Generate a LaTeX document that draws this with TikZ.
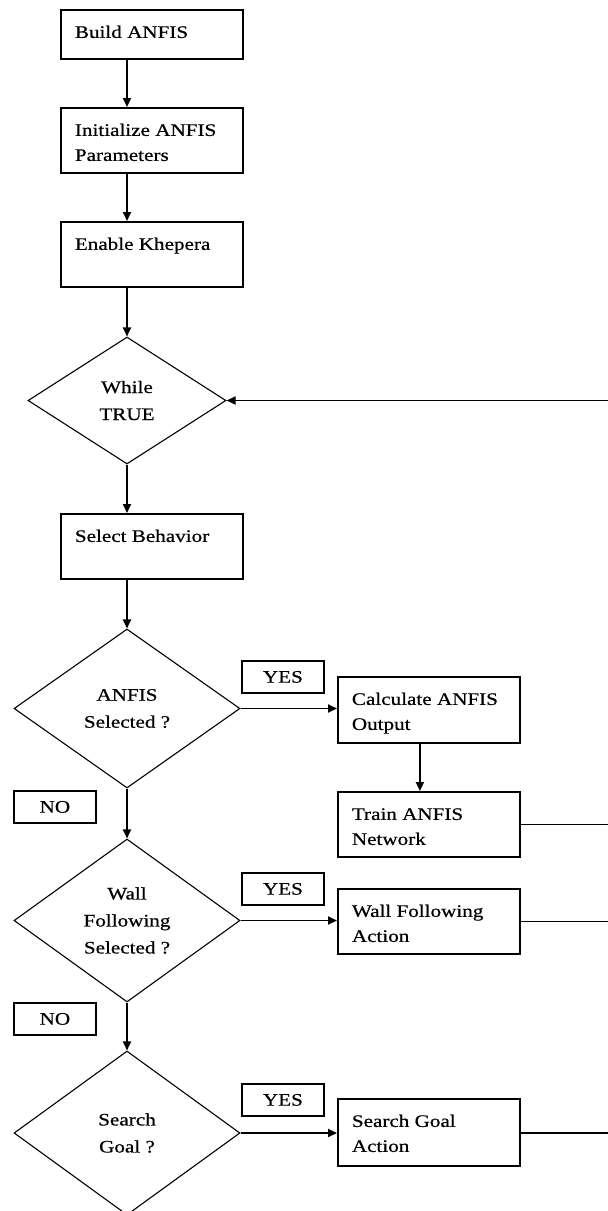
\documentclass[tikz,border=0pt]{standalone}
\usepackage{fontspec}
\setmainfont{Liberation Serif}[FakeStretch=1.2,FakeBold=0.6]
\usetikzlibrary{shapes.geometric,arrows.meta}

% text size used throughout the chart
\newcommand{\chartfont}{\fontsize{17.6pt}{25pt}\selectfont}
% top-left aligned text inside a process box of given height
\newcommand{\boxtxt}[2]{\parbox[c][#1pt][t]{182pt}{\chartfont\raggedright\leftskip=14pt\rule{0pt}{28pt}#2}}

\begin{document}
\begin{tikzpicture}[x=1pt,y=-1pt,
  stepbox/.style={draw,line width=1.8pt,inner sep=0pt,anchor=north west},
  decision/.style={diamond,draw,line width=1.1pt,inner sep=0pt,align=center,
                   font=\fontsize{17.6pt}{27pt}\selectfont},
  tag/.style={draw,line width=1.8pt,inner sep=0pt,anchor=north west,
              minimum width=82pt,minimum height=32pt,font=\chartfont},
  flow/.style={line width=1.8pt},
  arr/.style={flow,-{Triangle[length=9pt,width=8pt]}}]

\useasboundingbox (0,0) rectangle (608,1211);
\clip (0,0) rectangle (608,1211);

% main column
\node[stepbox] (build)  at (60,9)   {\boxtxt{49}{Build ANFIS}};
\node[stepbox] (init)   at (60,107) {\boxtxt{65}{Initialize ANFIS\\Parameters}};
\node[stepbox] (enable) at (60,221) {\boxtxt{65}{Enable Khepera}};
\node[decision,minimum width=198pt,minimum height=127pt] (while) at (127,400.5) {While\\TRUE};
\node[stepbox] (select) at (60,513) {\boxtxt{65}{Select Behavior}};
\node[decision,minimum width=226pt,minimum height=159pt] (anfis) at (127,708.5) {ANFIS\\Selected ?};
\node[decision,minimum width=226pt,minimum height=163pt] (wall) at (127,920.5) {Wall\\Following\\Selected ?};
\node[decision,minimum width=226pt,minimum height=164pt] (search) at (127,1133) {Search\\Goal ?};

% action boxes
\node[stepbox] (calc)    at (337,676)  {\boxtxt{66}{Calculate ANFIS\\Output}};
\node[stepbox] (train)   at (337,791)  {\boxtxt{65}{Train ANFIS\\Network}};
\node[stepbox] (wallact) at (337,888)  {\boxtxt{65}{Wall Following\\Action}};
\node[stepbox] (goalact) at (337,1098) {\boxtxt{67}{Search Goal\\Action}};

% branch labels
\node[tag] (yes1) at (241,660)  {YES};
\node[tag] (yes2) at (241,872)  {YES};
\node[tag] (yes3) at (241,1083) {YES};
\node[tag] (no1)  at (13,790)   {NO};
\node[tag] (no2)  at (13,1002)  {NO};

% loop-back line at the right edge
\coordinate (ret) at (608,400.5);

% connectors
\draw[arr] (build.south -| while.north) -- (init.north -| while.north);
\draw[arr] (init.south -| while.north) -- (enable.north -| while.north);
\draw[arr] (enable.south -| while.north) -- (while.north);
\draw[arr] (while.south) -- (select.north -| while.south);
\draw[arr] (select.south -| anfis.north) -- (anfis.north);
\draw[arr] (anfis.south) -- (wall.north);
\draw[arr] (wall.south) -- (search.north);

\draw[arr] (anfis.east) -- (anfis.east -| calc.west);
\draw[arr] ([xshift=-9pt]calc.south) -- ([xshift=-9pt]train.north);
\draw[arr] (wall.east) -- (wall.east -| wallact.west);
\draw[arr] (search.east) -- (search.east -| goalact.west);

\draw[flow] (train.east) -- (train.east -| ret);
\draw[flow] (wallact.east) -- (wallact.east -| ret);
\draw[flow] (goalact.east |- search.east) -- (search.east -| ret);
\draw[arr] (ret) -- (while.east);
\end{tikzpicture}
\end{document}
